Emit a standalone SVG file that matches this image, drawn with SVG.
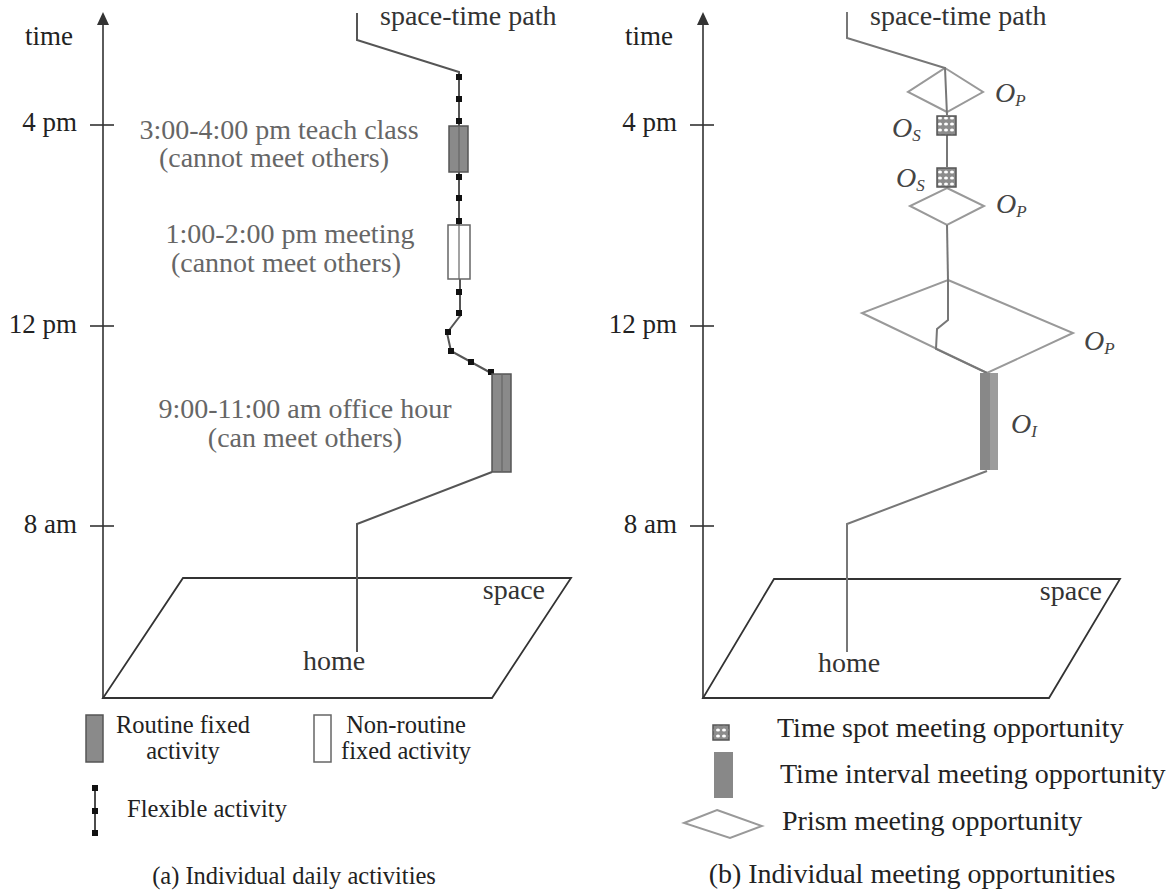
<svg xmlns="http://www.w3.org/2000/svg" width="1175" height="894" viewBox="0 0 1175 894">
  <style>
    text { font-family: "Liberation Serif", "Times New Roman", serif; }
    .ax { font-size: 27px; fill: #222; }
    .lbl { font-size: 28px; fill: #333; }
    .leg-a { font-size: 24.5px; fill: #222; }
    .leg-b { font-size: 28px; fill: #222; }
    .note { font-size: 28px; fill: #666; }
    .op { font-size: 28px; font-style: italic; fill: #444; }
    .sub { font-size: 17px; font-style: italic; }
    .axis { stroke: #333; stroke-width: 1.6; fill: none; }
    .plane { stroke: #333; stroke-width: 1.8; fill: none; }
    .path-a { stroke: #555; stroke-width: 2; fill: none; }
    .path-b { stroke: #777; stroke-width: 2; fill: none; }
    .prism { stroke: #999; stroke-width: 2; fill: none; }
    .routine { fill: #8a8a8a; stroke: #555; stroke-width: 1.5; }
    .nonroutine { fill: #fff; stroke: #666; stroke-width: 1.5; }
    .dot { fill: #111; }
    .spot { fill: url(#dots); stroke: #555; stroke-width: 1.5; }
    .interval { fill: #888; }
  </style>
  <defs>
    <pattern id="dots" width="6" height="6" patternUnits="userSpaceOnUse" x="1" y="1">
      <rect width="6" height="6" fill="#8c8c8c"/>
      <ellipse cx="3" cy="3" rx="2" ry="1.5" fill="#fff"/>
    </pattern>
    <rect id="sq" x="-3" y="-3" width="6" height="6" class="dot"/>
  </defs>

  <!-- ===== Panel (a): individual daily activities ===== -->
  <g id="axis-a">
    <line x1="103" y1="698" x2="103" y2="25" class="axis"/>
    <path d="M97,25 L103,12 L109,25 Z" fill="#333"/>
    <line x1="90" y1="125" x2="114" y2="125" class="axis"/>
    <line x1="90" y1="326" x2="114" y2="326" class="axis"/>
    <line x1="90" y1="526" x2="114" y2="526" class="axis"/>
    <text x="25" y="45" class="ax">time</text>
    <text x="77" y="131" class="ax" text-anchor="end">4 pm</text>
    <text x="77" y="333" class="ax" text-anchor="end">12 pm</text>
    <text x="77" y="533" class="ax" text-anchor="end">8 am</text>
  </g>

  <g id="plane-a">
    <polygon points="103,698 492,698 571,578 183,578" class="plane"/>
    <text x="545" y="599" class="lbl" text-anchor="end">space</text>
    <text x="334" y="670" class="lbl" text-anchor="middle">home</text>
  </g>

  <g id="connectors-a">
    <!-- home to office -->
    <polyline points="357,652 357,524 492,472" class="path-a"/>
    <!-- flexible trip office to meeting -->
    <polyline points="491,373 451,351 447,333 460,316 460,279" class="path-a"/>
    <!-- meeting to class -->
    <line x1="459" y1="225" x2="459" y2="172" class="path-a"/>
    <!-- class upward -->
    <polyline points="459,126 459,72 357,40 357,13" class="path-a"/>
  </g>

  <g id="flex-dots-a">
    <use href="#sq" x="491" y="372"/>
    <use href="#sq" x="471" y="362"/>
    <use href="#sq" x="451" y="351"/>
    <use href="#sq" x="448" y="332"/>
    <use href="#sq" x="459" y="313"/>
    <use href="#sq" x="459" y="292"/>
    <use href="#sq" x="459" y="221"/>
    <use href="#sq" x="459" y="198"/>
    <use href="#sq" x="459" y="177"/>
    <use href="#sq" x="459" y="121"/>
    <use href="#sq" x="459" y="99"/>
    <use href="#sq" x="459" y="77"/>
  </g>

  <g id="office-hour">
    <rect x="492" y="374" width="19" height="98" class="routine"/>
    <line x1="502" y1="374" x2="502" y2="472" stroke="#666" stroke-width="1.2"/>
    <text x="305" y="418" class="note" text-anchor="middle">9:00-11:00 am office hour</text>
    <text x="305" y="447" class="note" text-anchor="middle">(can meet others)</text>
  </g>

  <g id="meeting">
    <rect x="448" y="225" width="22" height="54" class="nonroutine"/>
    <line x1="459" y1="225" x2="459" y2="279" stroke="#666" stroke-width="1.2"/>
    <text x="290" y="243" class="note" text-anchor="middle">1:00-2:00 pm meeting</text>
    <text x="286" y="272" class="note" text-anchor="middle">(cannot meet others)</text>
  </g>

  <g id="teach-class">
    <rect x="449" y="126" width="19" height="46" class="routine"/>
    <line x1="459" y1="126" x2="459" y2="172" stroke="#666" stroke-width="1.2"/>
    <text x="279" y="139" class="note" text-anchor="middle">3:00-4:00 pm teach class</text>
    <text x="274" y="167" class="note" text-anchor="middle">(cannot meet others)</text>
  </g>

  <g id="path-label-a">
    <text x="380" y="25" class="lbl">space-time path</text>
  </g>

  <g id="legend-a">
    <rect x="86" y="715" width="17" height="47" class="routine"/>
    <text x="183" y="733" class="leg-a" text-anchor="middle">Routine fixed</text>
    <text x="183" y="759" class="leg-a" text-anchor="middle">activity</text>
    <rect x="314" y="715" width="17" height="47" class="nonroutine"/>
    <text x="406" y="733" class="leg-a" text-anchor="middle">Non-routine</text>
    <text x="406" y="759" class="leg-a" text-anchor="middle">fixed activity</text>
    <line x1="95" y1="788" x2="95" y2="833" stroke="#111" stroke-width="1.5"/>
    <use href="#sq" x="95" y="788"/>
    <use href="#sq" x="95" y="811"/>
    <use href="#sq" x="95" y="833"/>
    <text x="127" y="817" class="leg-a">Flexible activity</text>
    <text x="294" y="884" class="leg-a" text-anchor="middle">(a) Individual daily activities</text>
  </g>

  <!-- ===== Panel (b): individual meeting opportunities ===== -->
  <g id="axis-b">
    <line x1="703" y1="698" x2="703" y2="25" class="axis"/>
    <path d="M697,25 L703,12 L709,25 Z" fill="#333"/>
    <line x1="690" y1="125" x2="714" y2="125" class="axis"/>
    <line x1="690" y1="326" x2="714" y2="326" class="axis"/>
    <line x1="690" y1="526" x2="714" y2="526" class="axis"/>
    <text x="625" y="45" class="ax">time</text>
    <text x="677" y="131" class="ax" text-anchor="end">4 pm</text>
    <text x="677" y="333" class="ax" text-anchor="end">12 pm</text>
    <text x="677" y="533" class="ax" text-anchor="end">8 am</text>
  </g>

  <g id="plane-b">
    <polygon points="703,698 1049,698 1120,579 774,579" class="plane"/>
    <text x="1102" y="600" class="lbl" text-anchor="end">space</text>
    <text x="849" y="672" class="lbl" text-anchor="middle">home</text>
  </g>

  <g id="prisms-b">
    <polygon points="945,68 983,92 947,112 908,92" class="prism"/>
    <polygon points="947,188 984,206 947,225 910,206" class="prism"/>
    <polygon points="948,280 1073,333 987,373 862,313" class="prism"/>
  </g>

  <g id="connectors-b">
    <polyline points="847,652 847,524 987,471" class="path-b"/>
    <polyline points="948,280 948,320 937,329 936,349 987,373" class="path-b"/>
    <line x1="947" y1="225" x2="948" y2="280" class="path-b"/>
    <line x1="947" y1="135" x2="947" y2="167" class="path-b"/>
    <polyline points="947,115 945,68 847,38 847,12" class="path-b"/>
  </g>

  <g id="interval-b">
    <rect x="980" y="373" width="18" height="97" class="interval"/>
    <rect x="990" y="373" width="8" height="97" fill="#9c9c9c"/>
  </g>

  <g id="spots-b">
    <rect x="937" y="116" width="19" height="19" class="spot"/>
    <rect x="937" y="168" width="19" height="19" class="spot"/>
  </g>

  <g id="labels-b">
    <text x="870" y="25" class="lbl">space-time path</text>
    <text x="995" y="102" class="op">O<tspan class="sub" dy="4">P</tspan></text>
    <text x="892" y="137" class="op">O<tspan class="sub" dy="4">S</tspan></text>
    <text x="896" y="187" class="op">O<tspan class="sub" dy="4">S</tspan></text>
    <text x="996" y="213" class="op">O<tspan class="sub" dy="4">P</tspan></text>
    <text x="1084" y="350" class="op">O<tspan class="sub" dy="4">P</tspan></text>
    <text x="1011" y="433" class="op">O<tspan class="sub" dy="4">I</tspan></text>
  </g>

  <g id="legend-b">
    <rect x="713" y="725" width="16" height="15" class="spot"/>
    <text x="777" y="737" class="leg-b">Time spot meeting opportunity</text>
    <rect x="714" y="752" width="19" height="46" class="interval"/>
    <text x="780" y="783" class="leg-b">Time interval meeting opportunity</text>
    <polygon points="717,810 762,826 730,838 684,823" class="prism"/>
    <text x="782" y="830" class="leg-b">Prism meeting opportunity</text>
    <text x="912" y="883" class="leg-b" text-anchor="middle">(b) Individual meeting opportunities</text>
  </g>
</svg>
